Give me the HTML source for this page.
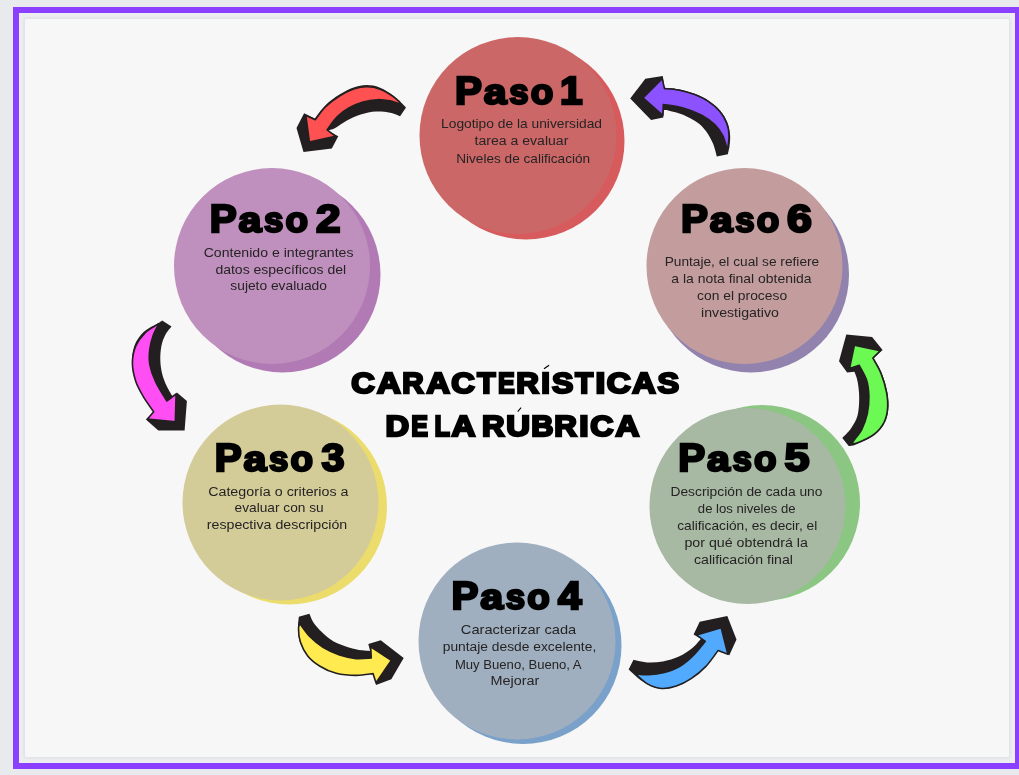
<!DOCTYPE html>
<html><head><meta charset="utf-8">
<style>
html,body{margin:0;padding:0;width:1019px;height:775px;overflow:hidden;background:#e9eaed;}
body{position:relative;font-family:"Liberation Sans", sans-serif;}
.frame{position:absolute;left:13px;top:7px;width:1008px;height:762px;box-sizing:border-box;border:6px solid #8b3fff;background:#eceef0;}
.inner{position:absolute;left:25px;top:19px;width:984px;height:738px;background:#f7f7f7;box-shadow:0 0 3px 1px #dcdde2;}
svg{position:absolute;left:0;top:0;will-change:transform;}
text{font-family:"Liberation Sans", sans-serif;}
</style></head><body>
<div class="frame"></div>
<div class="inner"></div>
<svg width="1019" height="775" viewBox="0 0 1019 775">
<circle cx="526.0" cy="141.0" r="98.5" fill="#d75b5d"/>
<circle cx="518.0" cy="135.5" r="98.5" fill="#cc6767"/>
<circle cx="282.5" cy="274.5" r="98.0" fill="#b27ab5"/>
<circle cx="272.0" cy="266.0" r="98.0" fill="#bf90bd"/>
<circle cx="289.0" cy="506.5" r="98.0" fill="#ebdc6c"/>
<circle cx="280.5" cy="502.5" r="98.0" fill="#d4cc98"/>
<circle cx="523.0" cy="645.5" r="98.5" fill="#7aa1c9"/>
<circle cx="517.0" cy="641.0" r="98.5" fill="#9fafbf"/>
<circle cx="762.0" cy="503.0" r="98.0" fill="#8cc683"/>
<circle cx="747.5" cy="506.0" r="98.0" fill="#a7b8a3"/>
<circle cx="751.0" cy="274.5" r="98.0" fill="#9183ae"/>
<circle cx="744.5" cy="266.0" r="98.0" fill="#c39d9d"/>
<path d="M304.1,113.3 L314.7,118.6 C316.5,116.4 321.2,109.4 325.3,105.4 C329.5,101.4 334.8,97.5 339.5,94.6 C344.2,91.6 349.1,89.1 353.6,87.5 C358.1,85.9 362.2,85.0 366.6,85.0 C370.9,85.0 375.2,85.7 379.5,87.4 C383.8,89.0 388.7,92.4 392.5,95.0 C396.2,97.7 400.3,101.9 401.9,103.3 L406.0,107.4 L400.1,116.2 C398.5,115.6 394.1,113.5 390.1,112.7 C386.1,111.9 380.9,111.2 376.0,111.5 C371.1,111.8 365.6,112.9 360.7,114.5 C355.8,116.0 350.9,118.4 346.5,120.7 C342.2,123.0 337.9,126.6 334.8,128.2 C331.6,129.8 328.7,130.0 327.5,130.4 L338.3,136.2 L331.8,148.6 L303.5,152.1 L296.5,128.0 Z" fill="#231f20"/>
<path d="M305.9,115.6 L315.3,119.8 C317.0,117.6 321.3,111.0 325.3,107.0 C329.4,103.1 334.8,99.2 339.5,96.2 C344.2,93.2 349.1,90.7 353.6,89.1 C358.1,87.6 362.2,86.8 366.6,86.8 C370.9,86.7 375.2,87.3 379.5,88.9 C383.8,90.5 388.9,93.7 392.5,96.2 C396.0,98.7 401.1,103.1 400.7,103.9 C400.3,104.6 394.0,101.6 390.1,100.9 C386.2,100.2 381.7,99.5 377.2,99.7 C372.6,99.9 367.7,100.7 363.0,102.1 C358.3,103.5 353.2,105.5 348.9,108.0 C344.6,110.4 340.7,113.2 337.1,116.8 C333.5,120.4 328.8,127.6 327.1,129.8 L335.3,136.2 L309.4,142.1 Z" fill="#ff5151" stroke="#231f20" stroke-width="1.6" stroke-linejoin="round"/>
<path d="M630.2,98.5 L645.3,78.7 L662.8,76.0 L664.5,87.7 C666.8,87.9 673.4,88.1 678.4,89.2 C683.5,90.2 689.7,91.9 694.7,93.8 C699.7,95.7 704.4,98.0 708.6,100.8 C712.9,103.6 717.2,107.1 720.2,110.7 C723.3,114.2 725.6,118.2 727.2,122.3 C728.9,126.3 729.7,131.0 730.1,135.0 C730.5,139.1 729.6,144.7 729.5,146.7 L727.8,154.2 L716.8,156.5 C716.2,154.5 715.0,148.5 713.3,144.3 C711.5,140.2 709.0,135.2 706.3,131.6 C703.6,127.9 700.9,125.1 697.0,122.3 C693.1,119.5 687.7,116.7 683.1,114.7 C678.4,112.8 672.3,111.4 669.1,110.7 C665.9,109.9 664.8,110.2 663.9,110.1 L663.3,117.6 L651.1,119.9 Z" fill="#231f20"/>
<path d="M643.0,97.9 L662.2,78.7 L664.5,88.6 C666.8,88.8 673.4,89.0 678.4,90.0 C683.5,91.0 689.7,92.7 694.7,94.6 C699.7,96.6 704.5,98.8 708.6,101.6 C712.8,104.4 716.7,107.7 719.7,111.2 C722.7,114.8 725.1,118.9 726.6,122.9 C728.2,126.8 728.9,130.9 729.0,135.0 C729.1,139.2 728.2,147.7 727.2,147.8 C726.2,147.9 724.9,139.5 722.8,135.6 C720.7,131.8 718.2,128.0 714.7,124.6 C711.2,121.2 706.9,117.9 701.7,115.1 C696.4,112.3 689.5,109.6 683.1,107.9 C676.7,106.1 666.6,105.1 663.3,104.5 L662.8,115.3 Z" fill="#8c52ff" stroke="#231f20" stroke-width="1.6" stroke-linejoin="round"/>
<path d="M162.2,320.4 L171.5,326.6 C170.4,328.0 166.9,331.9 165.3,335.1 C163.6,338.4 162.2,341.8 161.4,346.0 C160.6,350.1 160.2,355.3 160.3,359.9 C160.4,364.6 161.1,369.5 162.2,373.9 C163.3,378.2 165.0,382.4 166.8,386.2 C168.6,390.1 172.0,395.3 173.0,397.1 L176.9,392.4 L186.9,401.0 L184.6,430.4 L158.3,430.4 L145.9,419.5 L153.7,411.8 C152.0,409.3 146.6,402.1 143.6,397.1 C140.6,392.0 137.8,387.0 135.8,381.6 C133.9,376.2 132.2,370.5 132.0,364.6 C131.7,358.6 132.4,351.4 134.3,346.0 C136.2,340.6 139.7,335.8 143.6,332.0 C147.5,328.3 154.4,325.5 157.5,323.5 C160.6,321.6 161.4,320.9 162.2,320.4 Z" fill="#231f20"/>
<path d="M159.1,323.7 C156.7,325.2 149.0,329.1 145.1,332.8 C141.3,336.5 138.0,340.9 135.8,346.0 C133.7,351.0 132.4,357.1 132.4,363.0 C132.4,368.9 134.0,375.9 135.8,381.6 C137.7,387.3 140.6,392.0 143.6,397.1 C146.6,402.1 152.0,409.3 153.7,411.8 L147.5,419.1 L175.3,421.9 L176.1,394.0 L166.8,401.0 C165.0,397.8 158.5,388.0 155.7,381.9 C152.8,375.8 150.8,370.0 149.8,364.6 C148.8,359.1 149.2,354.0 149.8,349.1 C150.4,344.2 151.8,339.4 153.3,335.1 C154.9,330.9 158.1,325.6 159.1,323.7 Z" fill="#ff4ff4" stroke="#231f20" stroke-width="1.6" stroke-linejoin="round"/>
<path d="M846.3,334.4 L872.1,337.1 L882.6,350.0 L873.7,358.1 C875.1,360.6 879.5,367.6 881.8,373.4 C884.1,379.2 886.3,386.6 887.4,392.7 C888.5,398.9 888.9,405.1 888.2,410.5 C887.6,415.9 886.1,420.7 883.4,425.0 C880.7,429.3 876.7,433.1 872.1,436.3 C867.5,439.5 859.9,442.7 856.0,444.4 C852.1,446.0 849.9,445.7 848.7,446.0 L842.3,437.9 C843.7,436.3 848.6,432.0 851.1,428.2 C853.7,424.5 856.2,420.4 857.6,415.3 C858.9,410.2 859.2,403.2 859.2,397.6 C859.2,391.9 858.4,385.8 857.6,381.5 C856.8,377.2 854.9,373.4 854.4,371.8 L847.1,372.6 L839.0,361.3 Z" fill="#231f20"/>
<path d="M854.4,345.2 L880.2,350.8 L872.9,358.1 C874.2,360.6 878.7,367.6 881.0,373.4 C883.3,379.2 885.5,386.6 886.6,392.7 C887.7,398.9 888.1,405.1 887.4,410.5 C886.7,415.9 885.3,420.7 882.6,425.0 C879.9,429.3 876.3,433.2 871.3,436.3 C866.3,439.4 854.4,444.6 852.7,443.5 C851.1,442.5 859.2,434.8 861.6,429.8 C864.0,424.9 866.0,419.4 867.3,413.7 C868.5,408.1 869.0,401.6 868.9,396.0 C868.7,390.3 868.1,384.9 866.5,379.8 C864.8,374.7 860.4,367.7 859.2,365.3 L849.5,368.5 Z" fill="#6cf953" stroke="#231f20" stroke-width="1.6" stroke-linejoin="round"/>
<path d="M298.8,616.8 L309.4,613.8 C310.1,615.3 311.5,619.6 313.6,622.7 C315.6,625.7 318.5,628.9 321.8,632.1 C325.1,635.2 329.1,639.0 333.6,641.5 C338.1,644.1 344.2,645.9 348.9,647.4 C353.6,648.9 358.3,649.8 361.8,650.3 C365.4,650.9 368.7,650.8 370.1,650.9 L368.3,643.9 L380.7,640.3 L403.7,658.0 L391.3,679.2 L376.0,685.1 L373.6,674.5 L371.3,673.6 C368.5,673.9 360.6,675.5 354.8,675.4 C348.9,675.4 342.0,674.7 336.2,673.1 C330.4,671.5 324.8,668.9 320.0,666.0 C315.3,663.1 311.0,659.8 307.7,655.9 C304.4,652.0 301.7,647.2 300.1,642.7 C298.5,638.1 298.2,632.9 298.0,628.6 C297.8,624.2 298.7,618.7 298.8,616.8 Z" fill="#231f20"/>
<path d="M300.0,623.8 C301.7,626.0 306.2,632.9 310.0,636.8 C313.9,640.7 318.1,644.4 323.0,647.4 C327.9,650.4 334.0,653.2 339.5,655.1 C345.0,656.9 350.7,658.1 356.0,658.6 C361.3,659.1 368.7,658.1 371.3,658.0 L370.7,646.8 L391.3,660.4 L376.0,682.7 L373.0,673.6 C370.2,673.9 362.1,675.5 356.0,675.4 C349.8,675.4 342.2,674.8 336.2,673.3 C330.2,671.8 324.8,669.2 320.0,666.2 C315.3,663.3 310.9,659.9 307.7,655.9 C304.4,651.9 301.9,646.7 300.4,642.1 C298.8,637.5 298.5,631.6 298.5,628.6 C298.4,625.5 299.8,624.6 300.0,623.8 Z" fill="#ffea4f" stroke="#231f20" stroke-width="1.6" stroke-linejoin="round"/>
<path d="M628.6,669.5 L633.5,659.7 C635.7,660.2 642.1,662.2 647.0,662.5 C651.9,662.8 657.6,662.5 662.9,661.5 C668.2,660.5 674.0,658.9 678.9,656.6 C683.8,654.4 688.7,651.0 692.4,648.0 C696.1,645.1 699.5,640.4 701.0,638.8 L693.6,634.5 L699.7,621.7 L727.3,616.1 L736.5,639.4 L729.2,655.4 L727.9,654.2 L718.1,650.5 C716.5,652.5 712.4,658.5 708.3,662.7 C704.2,667.0 698.5,672.6 693.6,676.2 C688.7,679.9 683.4,682.8 678.9,684.8 C674.4,686.9 670.7,688.1 666.6,688.5 C662.5,688.9 658.4,688.5 654.3,687.3 C650.3,686.1 646.4,684.1 642.1,681.1 C637.8,678.2 630.8,671.4 628.6,669.5 Z" fill="#231f20"/>
<path d="M634.7,673.2 C636.8,674.9 642.5,681.0 647.0,683.6 C651.5,686.2 656.8,688.1 661.7,688.5 C666.6,688.9 671.5,687.7 676.4,686.1 C681.3,684.4 686.2,682.0 691.1,678.7 C696.1,675.4 701.4,671.1 705.9,666.4 C710.4,661.7 716.1,653.1 718.1,650.5 L727.9,654.2 L721.2,627.8 L696.7,635.1 L705.3,641.3 C703.3,643.6 697.8,651.0 693.6,655.1 C689.4,659.3 684.8,663.3 679.9,666.2 C675.0,669.1 669.4,671.1 664.2,672.6 C658.9,674.0 653.4,674.6 648.5,674.8 C643.6,674.9 637.0,673.7 634.7,673.5 Z" fill="#52aaff" stroke="#231f20" stroke-width="1.6" stroke-linejoin="round"/>
<text transform="translate(455.07,104.00) scale(1.0625,1)" font-size="38" font-weight="bold" fill="#000" stroke="#000" stroke-width="2.4" stroke-linejoin="miter" stroke-miterlimit="3">P</text>
<text transform="translate(483.79,104.00) scale(1.1581,1)" font-size="35.5" font-weight="bold" fill="#000" stroke="#000" stroke-width="2.4" stroke-linejoin="miter" stroke-miterlimit="3">a</text>
<text transform="translate(509.25,104.00) scale(0.9825,1)" font-size="35.5" font-weight="bold" fill="#000" stroke="#000" stroke-width="2.4" stroke-linejoin="miter" stroke-miterlimit="3">s</text>
<text transform="translate(530.81,104.00) scale(1.0370,1)" font-size="35.5" font-weight="bold" fill="#000" stroke="#000" stroke-width="2.4" stroke-linejoin="miter" stroke-miterlimit="3">o</text>
<text transform="translate(559.92,104.00) scale(1.0706,1)" font-size="38" font-weight="bold" fill="#000" stroke="#000" stroke-width="2.4" stroke-linejoin="miter" stroke-miterlimit="3">1</text>
<text transform="translate(209.87,231.90) scale(1.0625,1)" font-size="38" font-weight="bold" fill="#000" stroke="#000" stroke-width="2.4" stroke-linejoin="miter" stroke-miterlimit="3">P</text>
<text transform="translate(238.59,231.90) scale(1.1581,1)" font-size="35.5" font-weight="bold" fill="#000" stroke="#000" stroke-width="2.4" stroke-linejoin="miter" stroke-miterlimit="3">a</text>
<text transform="translate(264.05,231.90) scale(0.9825,1)" font-size="35.5" font-weight="bold" fill="#000" stroke="#000" stroke-width="2.4" stroke-linejoin="miter" stroke-miterlimit="3">s</text>
<text transform="translate(285.61,231.90) scale(1.0370,1)" font-size="35.5" font-weight="bold" fill="#000" stroke="#000" stroke-width="2.4" stroke-linejoin="miter" stroke-miterlimit="3">o</text>
<text transform="translate(315.96,231.90) scale(1.1597,1)" font-size="38" font-weight="bold" fill="#000" stroke="#000" stroke-width="2.4" stroke-linejoin="miter" stroke-miterlimit="3">2</text>
<text transform="translate(214.87,470.70) scale(1.0625,1)" font-size="38" font-weight="bold" fill="#000" stroke="#000" stroke-width="2.4" stroke-linejoin="miter" stroke-miterlimit="3">P</text>
<text transform="translate(243.59,470.70) scale(1.1581,1)" font-size="35.5" font-weight="bold" fill="#000" stroke="#000" stroke-width="2.4" stroke-linejoin="miter" stroke-miterlimit="3">a</text>
<text transform="translate(269.05,470.70) scale(0.9825,1)" font-size="35.5" font-weight="bold" fill="#000" stroke="#000" stroke-width="2.4" stroke-linejoin="miter" stroke-miterlimit="3">s</text>
<text transform="translate(290.61,470.70) scale(1.0370,1)" font-size="35.5" font-weight="bold" fill="#000" stroke="#000" stroke-width="2.4" stroke-linejoin="miter" stroke-miterlimit="3">o</text>
<text transform="translate(321.46,470.70) scale(1.0898,1)" font-size="38" font-weight="bold" fill="#000" stroke="#000" stroke-width="2.4" stroke-linejoin="miter" stroke-miterlimit="3">3</text>
<text transform="translate(451.57,609.20) scale(1.0625,1)" font-size="38" font-weight="bold" fill="#000" stroke="#000" stroke-width="2.4" stroke-linejoin="miter" stroke-miterlimit="3">P</text>
<text transform="translate(480.29,609.20) scale(1.1581,1)" font-size="35.5" font-weight="bold" fill="#000" stroke="#000" stroke-width="2.4" stroke-linejoin="miter" stroke-miterlimit="3">a</text>
<text transform="translate(505.75,609.20) scale(0.9825,1)" font-size="35.5" font-weight="bold" fill="#000" stroke="#000" stroke-width="2.4" stroke-linejoin="miter" stroke-miterlimit="3">s</text>
<text transform="translate(527.31,609.20) scale(1.0370,1)" font-size="35.5" font-weight="bold" fill="#000" stroke="#000" stroke-width="2.4" stroke-linejoin="miter" stroke-miterlimit="3">o</text>
<text transform="translate(558.00,609.20) scale(1.1163,1)" font-size="38" font-weight="bold" fill="#000" stroke="#000" stroke-width="2.4" stroke-linejoin="miter" stroke-miterlimit="3">4</text>
<text transform="translate(678.27,470.90) scale(1.0625,1)" font-size="38" font-weight="bold" fill="#000" stroke="#000" stroke-width="2.4" stroke-linejoin="miter" stroke-miterlimit="3">P</text>
<text transform="translate(706.99,470.90) scale(1.1581,1)" font-size="35.5" font-weight="bold" fill="#000" stroke="#000" stroke-width="2.4" stroke-linejoin="miter" stroke-miterlimit="3">a</text>
<text transform="translate(732.45,470.90) scale(0.9825,1)" font-size="35.5" font-weight="bold" fill="#000" stroke="#000" stroke-width="2.4" stroke-linejoin="miter" stroke-miterlimit="3">s</text>
<text transform="translate(754.01,470.90) scale(1.0370,1)" font-size="35.5" font-weight="bold" fill="#000" stroke="#000" stroke-width="2.4" stroke-linejoin="miter" stroke-miterlimit="3">o</text>
<text transform="translate(784.54,470.90) scale(1.1827,1)" font-size="38" font-weight="bold" fill="#000" stroke="#000" stroke-width="2.4" stroke-linejoin="miter" stroke-miterlimit="3">5</text>
<text transform="translate(681.07,231.80) scale(1.0625,1)" font-size="38" font-weight="bold" fill="#000" stroke="#000" stroke-width="2.4" stroke-linejoin="miter" stroke-miterlimit="3">P</text>
<text transform="translate(709.79,231.80) scale(1.1581,1)" font-size="35.5" font-weight="bold" fill="#000" stroke="#000" stroke-width="2.4" stroke-linejoin="miter" stroke-miterlimit="3">a</text>
<text transform="translate(735.25,231.80) scale(0.9825,1)" font-size="35.5" font-weight="bold" fill="#000" stroke="#000" stroke-width="2.4" stroke-linejoin="miter" stroke-miterlimit="3">s</text>
<text transform="translate(756.81,231.80) scale(1.0370,1)" font-size="35.5" font-weight="bold" fill="#000" stroke="#000" stroke-width="2.4" stroke-linejoin="miter" stroke-miterlimit="3">o</text>
<text transform="translate(787.07,231.80) scale(1.1748,1)" font-size="38" font-weight="bold" fill="#000" stroke="#000" stroke-width="2.4" stroke-linejoin="miter" stroke-miterlimit="3">6</text>
<text transform="translate(441.07,127.90) scale(1.0533,1)" font-size="13.1" font-weight="normal" fill="#262324">Logotipo de la universidad</text>
<text transform="translate(474.59,144.70) scale(1.0733,1)" font-size="13.1" font-weight="normal" fill="#262324">tarea a evaluar</text>
<text transform="translate(456.18,162.70) scale(1.0395,1)" font-size="13.1" font-weight="normal" fill="#262324">Niveles de calificación</text>
<text transform="translate(203.68,256.50) scale(1.0776,1)" font-size="13.1" font-weight="normal" fill="#262324">Contenido e integrantes</text>
<text transform="translate(215.41,273.70) scale(1.0699,1)" font-size="13.1" font-weight="normal" fill="#262324">datos específicos del</text>
<text transform="translate(230.32,290.30) scale(1.0538,1)" font-size="13.1" font-weight="normal" fill="#262324">sujeto evaluado</text>
<text transform="translate(208.18,495.50) scale(1.0894,1)" font-size="13.1" font-weight="normal" fill="#262324">Categoría o criterios a</text>
<text transform="translate(234.62,512.30) scale(1.0462,1)" font-size="13.1" font-weight="normal" fill="#262324">evaluar con su</text>
<text transform="translate(206.76,529.10) scale(1.0843,1)" font-size="13.1" font-weight="normal" fill="#262324">respectiva descripción</text>
<text transform="translate(460.86,633.90) scale(1.1162,1)" font-size="13.1" font-weight="normal" fill="#262324">Caracterizar cada</text>
<text transform="translate(442.71,651.00) scale(1.0545,1)" font-size="13.1" font-weight="normal" fill="#262324">puntaje desde excelente,</text>
<text transform="translate(454.93,668.70) scale(1.0001,1)" font-size="13.1" font-weight="normal" fill="#262324">Muy Bueno, Bueno, A</text>
<text transform="translate(490.52,685.40) scale(1.1023,1)" font-size="13.1" font-weight="normal" fill="#262324">Mejorar</text>
<text transform="translate(670.47,495.90) scale(1.0548,1)" font-size="13.1" font-weight="normal" fill="#262324">Descripción de cada uno</text>
<text transform="translate(697.85,512.70) scale(1.0030,1)" font-size="13.1" font-weight="normal" fill="#262324">de los niveles de</text>
<text transform="translate(677.22,529.60) scale(1.0455,1)" font-size="13.1" font-weight="normal" fill="#262324">calificación, es decir, el</text>
<text transform="translate(684.38,547.10) scale(1.0876,1)" font-size="13.1" font-weight="normal" fill="#262324">por qué obtendrá la</text>
<text transform="translate(694.00,564.40) scale(1.0790,1)" font-size="13.1" font-weight="normal" fill="#262324">calificación final</text>
<text transform="translate(664.68,265.50) scale(1.0466,1)" font-size="13.1" font-weight="normal" fill="#262324">Puntaje, el cual se refiere</text>
<text transform="translate(671.31,282.90) scale(1.0655,1)" font-size="13.1" font-weight="normal" fill="#262324">a la nota final obtenida</text>
<text transform="translate(697.11,300.30) scale(1.0565,1)" font-size="13.1" font-weight="normal" fill="#262324">con el proceso</text>
<text transform="translate(701.05,316.90) scale(1.0803,1)" font-size="13.1" font-weight="normal" fill="#262324">investigativo</text>
<text transform="translate(351.27,392.80) scale(1.0892,1)" font-size="29.9" font-weight="bold" fill="#000" stroke="#000" stroke-width="2.4" stroke-linejoin="miter" stroke-miterlimit="3">C</text>
<text transform="translate(376.90,392.80) scale(1.1001,1)" font-size="29.9" font-weight="bold" fill="#000" stroke="#000" stroke-width="2.4" stroke-linejoin="miter" stroke-miterlimit="3">A</text>
<text transform="translate(402.31,392.80) scale(0.9919,1)" font-size="29.9" font-weight="bold" fill="#000" stroke="#000" stroke-width="2.4" stroke-linejoin="miter" stroke-miterlimit="3">R</text>
<text transform="translate(426.39,392.80) scale(1.0823,1)" font-size="29.9" font-weight="bold" fill="#000" stroke="#000" stroke-width="2.4" stroke-linejoin="miter" stroke-miterlimit="3">A</text>
<text transform="translate(451.37,392.80) scale(1.0892,1)" font-size="29.9" font-weight="bold" fill="#000" stroke="#000" stroke-width="2.4" stroke-linejoin="miter" stroke-miterlimit="3">C</text>
<text transform="translate(477.36,392.80) scale(0.9999,1)" font-size="29.9" font-weight="bold" fill="#000" stroke="#000" stroke-width="2.4" stroke-linejoin="miter" stroke-miterlimit="3">T</text>
<text transform="translate(497.93,392.80) scale(0.8399,1)" font-size="29.9" font-weight="bold" fill="#000" stroke="#000" stroke-width="2.4" stroke-linejoin="miter" stroke-miterlimit="3">E</text>
<text transform="translate(516.26,392.80) scale(1.0481,1)" font-size="29.9" font-weight="bold" fill="#000" stroke="#000" stroke-width="2.4" stroke-linejoin="miter" stroke-miterlimit="3">R</text>
<text transform="translate(541.36,392.80) scale(1.0441,1)" font-size="29.9" font-weight="bold" fill="#000" stroke="#000" stroke-width="2.4" stroke-linejoin="miter" stroke-miterlimit="3">I</text>
<text transform="translate(552.06,392.80) scale(1.0686,1)" font-size="29.9" font-weight="bold" fill="#000" stroke="#000" stroke-width="2.4" stroke-linejoin="miter" stroke-miterlimit="3">S</text>
<text transform="translate(575.25,392.80) scale(0.9799,1)" font-size="29.9" font-weight="bold" fill="#000" stroke="#000" stroke-width="2.4" stroke-linejoin="miter" stroke-miterlimit="3">T</text>
<text transform="translate(595.46,392.80) scale(1.1784,1)" font-size="29.9" font-weight="bold" fill="#000" stroke="#000" stroke-width="2.4" stroke-linejoin="miter" stroke-miterlimit="3">I</text>
<text transform="translate(606.67,392.80) scale(1.1120,1)" font-size="29.9" font-weight="bold" fill="#000" stroke="#000" stroke-width="2.4" stroke-linejoin="miter" stroke-miterlimit="3">C</text>
<text transform="translate(632.29,392.80) scale(1.0867,1)" font-size="29.9" font-weight="bold" fill="#000" stroke="#000" stroke-width="2.4" stroke-linejoin="miter" stroke-miterlimit="3">A</text>
<text transform="translate(657.57,392.80) scale(1.0833,1)" font-size="29.9" font-weight="bold" fill="#000" stroke="#000" stroke-width="2.4" stroke-linejoin="miter" stroke-miterlimit="3">S</text>
<text transform="translate(385.42,435.70) scale(1.0950,1)" font-size="29.9" font-weight="bold" fill="#000" stroke="#000" stroke-width="2.4" stroke-linejoin="miter" stroke-miterlimit="3">D</text>
<text transform="translate(411.13,435.70) scale(0.8399,1)" font-size="29.9" font-weight="bold" fill="#000" stroke="#000" stroke-width="2.4" stroke-linejoin="miter" stroke-miterlimit="3">E</text>
<text transform="translate(434.62,435.70) scale(0.8456,1)" font-size="29.9" font-weight="bold" fill="#000" stroke="#000" stroke-width="2.4" stroke-linejoin="miter" stroke-miterlimit="3">L</text>
<text transform="translate(451.50,435.70) scale(1.1045,1)" font-size="29.9" font-weight="bold" fill="#000" stroke="#000" stroke-width="2.4" stroke-linejoin="miter" stroke-miterlimit="3">A</text>
<text transform="translate(482.07,435.70) scale(1.0434,1)" font-size="29.9" font-weight="bold" fill="#000" stroke="#000" stroke-width="2.4" stroke-linejoin="miter" stroke-miterlimit="3">R</text>
<text transform="translate(506.14,435.70) scale(1.0999,1)" font-size="29.9" font-weight="bold" fill="#000" stroke="#000" stroke-width="2.4" stroke-linejoin="miter" stroke-miterlimit="3">U</text>
<text transform="translate(531.18,435.70) scale(1.0277,1)" font-size="29.9" font-weight="bold" fill="#000" stroke="#000" stroke-width="2.4" stroke-linejoin="miter" stroke-miterlimit="3">B</text>
<text transform="translate(554.26,435.70) scale(1.0481,1)" font-size="29.9" font-weight="bold" fill="#000" stroke="#000" stroke-width="2.4" stroke-linejoin="miter" stroke-miterlimit="3">R</text>
<text transform="translate(579.30,435.70) scale(1.1187,1)" font-size="29.9" font-weight="bold" fill="#000" stroke="#000" stroke-width="2.4" stroke-linejoin="miter" stroke-miterlimit="3">I</text>
<text transform="translate(590.17,435.70) scale(1.0756,1)" font-size="29.9" font-weight="bold" fill="#000" stroke="#000" stroke-width="2.4" stroke-linejoin="miter" stroke-miterlimit="3">C</text>
<text transform="translate(615.40,435.70) scale(1.1045,1)" font-size="29.9" font-weight="bold" fill="#000" stroke="#000" stroke-width="2.4" stroke-linejoin="miter" stroke-miterlimit="3">A</text>
<path d="M544,368.8 L549.1,365.2 M517.7,411.6 L521.1,407.7" stroke="#000" stroke-width="1.1" fill="none"/>
</svg>
</body></html>
